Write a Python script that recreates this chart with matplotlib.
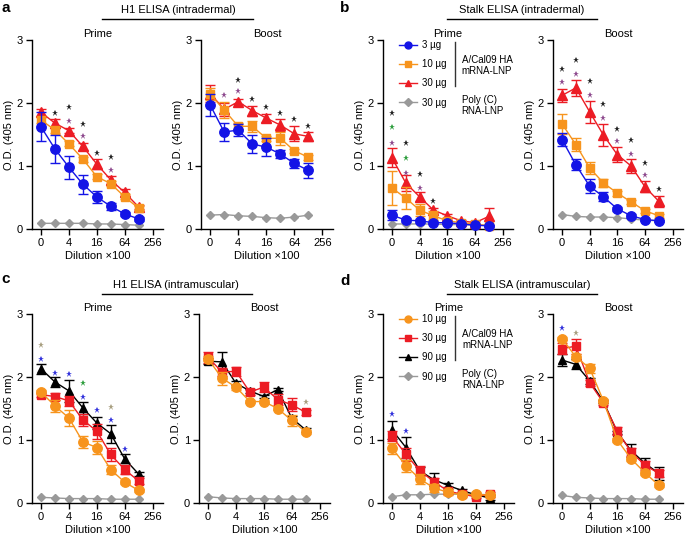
import matplotlib
matplotlib.use("Agg")
import matplotlib.pyplot as plt
from matplotlib.lines import Line2D

plt.rcParams['font.family'] = ['Liberation Sans', 'DejaVu Sans']
plt.rcParams['font.size'] = 8

W, H = 686, 535

# ---------------- data ----------------
dilution = [1, 2, 4, 8, 16, 32, 64, 128]
tick_values = [1, 4, 16, 64, 256]
tick_labels = ['0', '4', '16', '64', '256']
labels_top = ['3 µg', '10 µg', '30 µg', '30 µg']
labels_bottom = ['10 µg', '30 µg', '90 µg', '90 µg']

# Panel a - H1 ELISA intradermal, prime
a1_blue = [1.62, 1.27, 0.98, 0.71, 0.51, 0.36, 0.24, 0.16]
a1_blue_err = [0.23, 0.22, 0.18, 0.15, 0.09, 0.06, 0.03, 0.03]
a1_orange = [1.73, 1.57, 1.35, 1.11, 0.83, 0.72, 0.51, 0.33]
a1_orange_err = [0.05, 0.05, 0.04, 0.04, 0.04, 0.04, 0.04, 0.03]
a1_red = [1.85, 1.68, 1.56, 1.31, 1.03, 0.78, 0.58, 0.35]
a1_red_err = [0.06, 0.07, 0.04, 0.06, 0.08, 0.06, 0.06, 0.03]
a1_gray = [0.09, 0.09, 0.09, 0.09, 0.08, 0.08, 0.07, 0.06]
a1_star_black_x = [2, 4, 8, 16, 32]
a1_star_black_y = [1.84, 1.93, 1.67, 1.21, 1.15]
a1_star_purple_x = [4, 8, 32]
a1_star_purple_y = [1.72, 1.47, 0.93]

# Panel a - boost
a2_blue = [1.97, 1.54, 1.57, 1.35, 1.30, 1.19, 1.04, 0.93]
a2_blue_err = [0.17, 0.14, 0.09, 0.14, 0.14, 0.07, 0.07, 0.12]
a2_orange = [2.14, 1.89, 1.63, 1.63, 1.44, 1.44, 1.24, 1.14]
a2_orange_err = [0.10, 0.13, 0.05, 0.09, 0.04, 0.10, 0.03, 0.04]
a2_red = [2.15, 1.90, 2.02, 1.88, 1.76, 1.65, 1.51, 1.47]
a2_red_err = [0.13, 0.10, 0.04, 0.08, 0.06, 0.10, 0.12, 0.07]
a2_gray = [0.22, 0.23, 0.21, 0.20, 0.18, 0.17, 0.19, 0.22]
a2_star_black_x = [4, 8, 16, 32, 64, 128]
a2_star_black_y = [2.37, 2.06, 1.93, 1.84, 1.75, 1.64]
a2_star_purple_x = [2, 4]
a2_star_purple_y = [2.12, 2.19]

# Panel b - Stalk ELISA intradermal, prime
b1_blue = [0.22, 0.14, 0.13, 0.10, 0.10, 0.08, 0.06, 0.05]
b1_blue_err = [0.08, 0.03, 0.03, 0.02, 0.02, 0.02, 0.01, 0.01]
b1_orange = [0.65, 0.49, 0.30, 0.21, 0.13, 0.10, 0.08, 0.05]
b1_orange_err = [0.27, 0.18, 0.10, 0.07, 0.04, 0.03, 0.02, 0.02]
b1_red = [1.13, 0.73, 0.51, 0.30, 0.21, 0.13, 0.10, 0.20]
b1_red_err = [0.15, 0.12, 0.07, 0.04, 0.03, 0.02, 0.02, 0.13]
b1_gray = [0.08, 0.08, 0.08, 0.08, 0.07, 0.07, 0.06, 0.06]
b1_star_black_x = [1, 2, 4, 8]
b1_star_black_y = [1.84, 1.36, 0.88, 0.45]
b1_star_green_x = [1, 2]
b1_star_green_y = [1.62, 1.13]
b1_star_purple_x = [1, 2, 4]
b1_star_purple_y = [1.37, 0.89, 0.65]

# Panel b - boost
b2_blue = [1.42, 1.02, 0.68, 0.51, 0.32, 0.21, 0.15, 0.13]
b2_blue_err = [0.11, 0.09, 0.11, 0.07, 0.03, 0.03, 0.02, 0.02]
b2_orange = [1.67, 1.34, 0.97, 0.73, 0.57, 0.43, 0.29, 0.21]
b2_orange_err = [0.16, 0.10, 0.09, 0.07, 0.04, 0.03, 0.03, 0.03]
b2_red = [2.12, 2.24, 1.86, 1.49, 1.18, 1.00, 0.67, 0.44]
b2_red_err = [0.10, 0.13, 0.17, 0.17, 0.12, 0.11, 0.09, 0.09]
b2_gray = [0.23, 0.20, 0.19, 0.19, 0.18, 0.16, 0.14, 0.13]
b2_star_black_x = [1, 2, 4, 8, 16, 32, 64, 128]
b2_star_black_y = [2.54, 2.68, 2.35, 1.98, 1.59, 1.42, 1.04, 0.63]
b2_star_purple_x = [1, 2, 4, 8, 16, 32, 64]
b2_star_purple_y = [2.33, 2.46, 2.13, 1.76, 1.40, 1.19, 0.85]

# Panel c - H1 ELISA intramuscular, prime
c1_orange = [1.76, 1.54, 1.35, 0.97, 0.88, 0.53, 0.33, 0.20]
c1_orange_err = [0.03, 0.09, 0.12, 0.10, 0.10, 0.07, 0.03, 0.03]
c1_red = [1.72, 1.69, 1.62, 1.32, 1.14, 0.77, 0.53, 0.35]
c1_red_err = [0.03, 0.05, 0.08, 0.09, 0.12, 0.10, 0.07, 0.05]
c1_black = [2.13, 1.92, 1.78, 1.51, 1.27, 1.10, 0.70, 0.46]
c1_black_err = [0.08, 0.08, 0.17, 0.10, 0.10, 0.14, 0.07, 0.03]
c1_gray = [0.09, 0.08, 0.07, 0.07, 0.07, 0.06, 0.06, 0.06]
c1_star_blue_x = [1, 2, 4, 8, 16, 32, 64]
c1_star_blue_y = [2.29, 2.07, 2.04, 1.69, 1.47, 1.32, 0.85]
c1_star_tan_x = [1, 32]
c1_star_tan_y = [2.51, 1.53]
c1_star_green_x = [8]
c1_star_green_y = [1.90]

# Panel c - boost
c2_orange = [2.29, 1.98, 1.84, 1.61, 1.61, 1.50, 1.31, 1.13]
c2_orange_err = [0.04, 0.10, 0.04, 0.02, 0.03, 0.03, 0.08, 0.03]
c2_red = [2.31, 2.08, 2.09, 1.76, 1.84, 1.64, 1.56, 1.44]
c2_red_err = [0.08, 0.06, 0.07, 0.04, 0.08, 0.09, 0.10, 0.04]
c2_black = [2.25, 2.24, 1.90, 1.78, 1.69, 1.80, 1.35, 1.16]
c2_black_err = [0.05, 0.15, 0.03, 0.03, 0.03, 0.03, 0.03, 0.03]
c2_gray = [0.10, 0.08, 0.07, 0.07, 0.07, 0.06, 0.06, 0.06]
c2_star_tan_x = [128]
c2_star_tan_y = [1.61]

# Panel d - Stalk ELISA intramuscular, prime
d1_orange = [0.87, 0.59, 0.38, 0.24, 0.17, 0.13, 0.14, 0.12]
d1_orange_err = [0.09, 0.09, 0.08, 0.06, 0.05, 0.04, 0.03, 0.03]
d1_red = [1.06, 0.77, 0.51, 0.34, 0.19, 0.14, 0.10, 0.14]
d1_red_err = [0.08, 0.10, 0.08, 0.06, 0.04, 0.03, 0.02, 0.04]
d1_black = [1.16, 0.88, 0.51, 0.37, 0.28, 0.20, 0.13, 0.08]
d1_black_err = [0.14, 0.17, 0.06, 0.10, 0.03, 0.03, 0.02, 0.04]
d1_gray = [0.10, 0.13, 0.13, 0.14, 0.14, 0.14, 0.14, 0.13]
d1_star_blue_x = [1, 2]
d1_star_blue_y = [1.41, 1.14]

# Panel d - boost
d2_orange = [2.61, 2.32, 2.14, 1.62, 1.00, 0.70, 0.48, 0.28]
d2_orange_err = [0.03, 0.05, 0.07, 0.03, 0.03, 0.03, 0.03, 0.03]
d2_red = [2.45, 2.49, 1.91, 1.59, 1.14, 0.81, 0.60, 0.47]
d2_red_err = [0.09, 0.12, 0.05, 0.03, 0.06, 0.07, 0.07, 0.06]
d2_black = [2.27, 2.20, 1.94, 1.61, 1.12, 0.83, 0.63, 0.47]
d2_black_err = [0.10, 0.08, 0.05, 0.03, 0.03, 0.10, 0.08, 0.10]
d2_gray = [0.12, 0.09, 0.08, 0.07, 0.07, 0.07, 0.06, 0.06]
d2_star_blue_x = [1]
d2_star_blue_y = [2.77]
d2_star_tan_x = [2]
d2_star_tan_y = [2.70]

# ---------------- styles ----------------
BLUE = '#1414E6'
ORANGE = '#F7941D'
RED = '#EC1C24'
BLACK = '#000000'
GRAY = '#999999'
S_BLACK = '#222222'
S_PURPLE = '#8E4A8E'
S_GREEN = '#2E9E3E'
S_TAN = '#A89F80'
S_BLUE = '#3232DC'

fig = plt.figure(figsize=(W / 100, H / 100), dpi=100)


def add_ax(l, r, t, b):
    return fig.add_axes([l / W, 1 - b / H, (r - l) / W, (b - t) / H])


def style(ax, title):
    ax.set_xscale('log', base=2)
    ax.set_xlim(2 ** -0.65, 2 ** 8.75)
    ax.set_ylim(0, 3)
    ax.set_xticks(tick_values)
    ax.set_xticklabels(tick_labels)
    ax.minorticks_off()
    ax.set_yticks([0, 1, 2, 3])
    for s in ['top', 'right']:
        ax.spines[s].set_visible(False)
    for s in ['left', 'bottom']:
        ax.spines[s].set_linewidth(1.0)
    ax.tick_params(direction='out', length=4, width=1.0, labelsize=8, pad=2.5)
    ax.set_xlabel('Dilution ×100', fontsize=8, labelpad=2)
    ax.set_ylabel('O.D. (405 nm)', fontsize=8, labelpad=2)
    ax.set_title(title, fontsize=8, pad=2)


def series(ax, y, err, color, marker, ms, z):
    if err is None:
        ax.plot(dilution, y, color=color, marker=marker, ms=ms, lw=1,
                clip_on=False, zorder=z)
    else:
        ax.errorbar(dilution, y, yerr=err, color=color, marker=marker, ms=ms,
                    lw=1, elinewidth=1, capsize=3.5, capthick=1,
                    clip_on=False, zorder=z)


def stars(ax, x, y, color):
    ax.plot(x, y, ls='none', marker='*', ms=4.5, color=color,
            markeredgewidth=0, clip_on=False, zorder=6)


def top_panel(ax, blue, be, orange, oe, red, re, gray, title):
    style(ax, title)
    series(ax, gray, None, GRAY, 'D', 4, 2)
    series(ax, red, re, RED, '^', 6.5, 3)
    series(ax, orange, oe, ORANGE, 's', 6.3, 4)
    series(ax, blue, be, BLUE, 'o', 6.8, 5)


def bottom_panel(ax, orange, oe, red, re, black, ke, gray, title):
    style(ax, title)
    series(ax, gray, None, GRAY, 'D', 4, 2)
    series(ax, black, ke, BLACK, '^', 6.2, 3)
    series(ax, red, re, RED, 's', 6.3, 4)
    series(ax, orange, oe, ORANGE, 'o', 6.8, 5)


def legend_block(ax, colors, markers, labels):
    handles = [Line2D([], [], color=c, marker=m, ms=ms, lw=1)
               for c, m, ms in zip(colors, markers, [5, 5, 5, 4])]
    ax.legend(handles, labels, loc='upper left', bbox_to_anchor=(0.12, 1.0),
              frameon=False, fontsize=7, handlelength=1.9, handletextpad=0.5,
              labelspacing=0.95, borderpad=0, borderaxespad=0)
    ax.text(0.605, 0.865, 'A/Cal09 HA\nmRNA-LNP', transform=ax.transAxes,
            fontsize=7, va='center', ha='left', linespacing=1.15)
    ax.text(0.605, 0.655, 'Poly (C)\nRNA-LNP', transform=ax.transAxes,
            fontsize=7, va='center', ha='left', linespacing=1.15)
    ax.add_line(Line2D([0.55, 0.55], [0.99, 0.755], transform=ax.transAxes,
                       color='#333333', lw=1))


# top row
ax = add_ax(32, 163, 40, 229)
top_panel(ax, a1_blue, a1_blue_err, a1_orange, a1_orange_err, a1_red, a1_red_err, a1_gray, 'Prime')
stars(ax, a1_star_black_x, a1_star_black_y, S_BLACK)
stars(ax, a1_star_purple_x, a1_star_purple_y, S_PURPLE)

ax = add_ax(201, 333, 40, 229)
top_panel(ax, a2_blue, a2_blue_err, a2_orange, a2_orange_err, a2_red, a2_red_err, a2_gray, 'Boost')
stars(ax, a2_star_black_x, a2_star_black_y, S_BLACK)
stars(ax, a2_star_purple_x, a2_star_purple_y, S_PURPLE)

ax = add_ax(383, 513, 40, 229)
top_panel(ax, b1_blue, b1_blue_err, b1_orange, b1_orange_err, b1_red, b1_red_err, b1_gray, 'Prime')
stars(ax, b1_star_black_x, b1_star_black_y, S_BLACK)
stars(ax, b1_star_green_x, b1_star_green_y, S_GREEN)
stars(ax, b1_star_purple_x, b1_star_purple_y, S_PURPLE)
legend_block(ax, [BLUE, ORANGE, RED, GRAY], ['o', 's', '^', 'D'], labels_top)

ax = add_ax(553, 683, 40, 229)
top_panel(ax, b2_blue, b2_blue_err, b2_orange, b2_orange_err, b2_red, b2_red_err, b2_gray, 'Boost')
stars(ax, b2_star_black_x, b2_star_black_y, S_BLACK)
stars(ax, b2_star_purple_x, b2_star_purple_y, S_PURPLE)

# bottom row
ax = add_ax(32, 163, 314, 503)
bottom_panel(ax, c1_orange, c1_orange_err, c1_red, c1_red_err, c1_black, c1_black_err, c1_gray, 'Prime')
stars(ax, c1_star_blue_x, c1_star_blue_y, S_BLUE)
stars(ax, c1_star_tan_x, c1_star_tan_y, S_TAN)
stars(ax, c1_star_green_x, c1_star_green_y, S_GREEN)

ax = add_ax(199, 330, 314, 503)
bottom_panel(ax, c2_orange, c2_orange_err, c2_red, c2_red_err, c2_black, c2_black_err, c2_gray, 'Boost')
stars(ax, c2_star_tan_x, c2_star_tan_y, S_TAN)

ax = add_ax(383, 514, 314, 503)
bottom_panel(ax, d1_orange, d1_orange_err, d1_red, d1_red_err, d1_black, d1_black_err, d1_gray, 'Prime')
stars(ax, d1_star_blue_x, d1_star_blue_y, S_BLUE)
legend_block(ax, [ORANGE, RED, BLACK, GRAY], ['o', 's', '^', 'D'], labels_bottom)

ax = add_ax(553, 683, 314, 503)
bottom_panel(ax, d2_orange, d2_orange_err, d2_red, d2_red_err, d2_black, d2_black_err, d2_gray, 'Boost')
stars(ax, d2_star_blue_x, d2_star_blue_y, S_BLUE)
stars(ax, d2_star_tan_x, d2_star_tan_y, S_TAN)

# group headers
def header(text, xc, yt, x0, x1, yl):
    fig.text(xc / W, 1 - yt / H, text, ha='center', va='center', fontsize=8)
    fig.add_artist(Line2D([x0 / W, x1 / W], [1 - yl / H, 1 - yl / H],
                          transform=fig.transFigure, color='black', lw=1))


header('H1 ELISA (intradermal)', 178, 10, 102, 253, 19)
header('Stalk ELISA (intradermal)', 522, 10, 447, 597, 19)
header('H1 ELISA (intramuscular)', 176, 285, 102, 252, 294)
header('Stalk ELISA (intramuscular)', 522, 285, 447, 597, 294)

for letter, x, y in [('a', 6, 8), ('b', 345, 8), ('c', 6, 279), ('d', 345, 281)]:
    fig.text(x / W, 1 - y / H, letter, fontsize=11, fontweight='bold',
             ha='center', va='center')

fig.savefig('out.png', dpi=100)
